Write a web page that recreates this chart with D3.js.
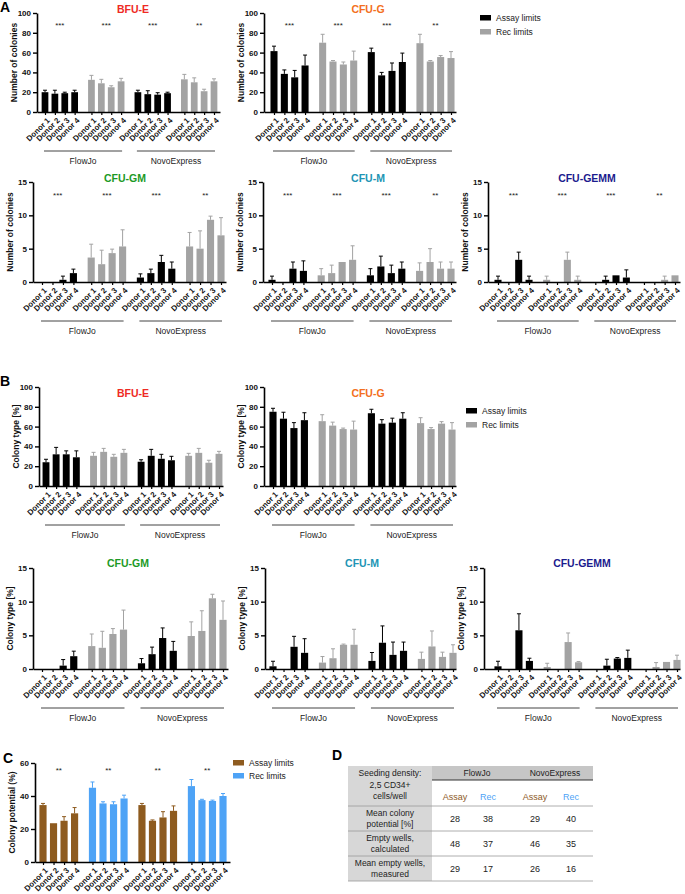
<!DOCTYPE html>
<html>
<head>
<meta charset="utf-8">
<script src="https://cdn.jsdelivr.net/npm/d3@7"></script>
<style>
  body { margin: 0; background: #fff; }
  svg { display: block; font-family: Arial, "Liberation Sans", sans-serif; }
</style>
</head>
<body>
<div id="figure"></div>
<script>
// ---- DATA ----
const donors = ["Donor 1", "Donor 2", "Donor 3", "Donor 4"];
const software = ["FlowJo", "NovoExpress"];
const limits = ["Assay limits", "Rec limits"];
const starsA = ["***", "***", "***", "**"];
const starsC = ["**", "**", "**", "**"];

// order of 16 bars: FlowJo assay x4, FlowJo rec x4, Novo assay x4, Novo rec x4
// Panel A - number of colonies
const aBfuE = [20, 18.5, 19, 20, 32.5, 29, 25, 31, 20, 18, 17.5, 19, 33, 30, 21, 31];
const aBfuEErr = [2, 3.5, 1, 2, 4.5, 4, 1.5, 3, 2, 3.5, 2, 1, 5, 4.5, 2, 2.5];
const aCfuG = [61.5, 38.5, 35, 47, 70, 51, 48, 52, 60.5, 37, 41.5, 50.5, 69.5, 51, 55.5, 54.5];
const aCfuGErr = [5, 4, 7, 10.5, 8.5, 1, 2.5, 9.5, 4, 3, 8, 9, 9, 1, 1.5, 6.5];
const aCfuGM = [0, 0, 0.33, 1.33, 3.67, 2.67, 4.33, 5.33, 0.67, 1.33, 3, 2, 5.33, 5, 9.33, 7];
const aCfuGMErr = [0, 0, 0.55, 0.6, 2, 2.1, 0.6, 2.5, 0.55, 0.6, 1, 1, 2.1, 2.67, 0.55, 2.65];
const aCfuM = [0.33, 0, 2, 1.67, 1, 1.33, 3, 3.33, 1, 2.33, 1.33, 2, 1.67, 3, 2, 2];
const aCfuMErr = [0.55, 0, 1, 1.5, 1, 1.2, 0, 2.1, 1, 1.55, 1.2, 1, 1.2, 2, 1, 1];
const aCfuGEMM = [0.33, 0, 3.33, 0.33, 0.33, 0, 3.33, 0.33, 0, 0.33, 1, 0.67, 0, 0, 0.33, 1];
const aCfuGEMMErr = [0.55, 0, 1.15, 0.55, 0.55, 0, 1.15, 0.55, 0, 0.55, 0, 1.15, 0, 0, 0.55, 0];

// Panel B - colony type [%]
const bBfuE = [24, 32, 32, 29, 30.5, 34.5, 29.5, 33.5, 24.5, 30.5, 27.5, 26, 30.5, 33.5, 23.5, 32.5];
const bBfuEErr = [3, 7, 3.5, 6.5, 3.5, 3.5, 2.5, 3.5, 2, 6.5, 4.5, 4, 2.5, 4.5, 2.5, 2.5];
const bCfuG = [75, 68, 58.5, 66.5, 65.5, 61, 57.5, 57, 73.5, 63, 64, 68, 63.5, 57.5, 63, 57];
const bCfuGErr = [3.5, 6.5, 5.5, 7.5, 6.5, 3.5, 1, 8.5, 4, 4, 4.5, 6, 5.5, 1.5, 2, 7];
const bCfuGM = [0, 0, 0.5, 1.9, 3.4, 3.15, 5.2, 5.85, 0.85, 2.2, 4.6, 2.7, 4.9, 5.65, 10.5, 7.3];
const bCfuGMErr = [0, 0, 0.9, 0.75, 1.8, 2.45, 0.8, 2.9, 0.7, 1.05, 1.5, 1.4, 2.1, 3, 0.6, 2.8];
const bCfuM = [0.4, 0, 3.3, 2.4, 0.95, 1.6, 3.6, 3.6, 1.2, 3.9, 2.1, 2.7, 1.5, 3.35, 1.8, 2.4];
const bCfuMErr = [0.75, 0, 1.55, 2.1, 0.9, 1.4, 0.1, 2.3, 1.25, 2.5, 1.9, 1.3, 1, 2.3, 0.7, 1.2];
const bCfuGEMM = [0.4, 0, 5.75, 1.2, 0.3, 0, 4, 1, 0, 0.5, 1.55, 1.65, 0, 0.3, 1.05, 1.35];
const bCfuGEMMErr = [0.75, 0, 2.45, 0.4, 0.55, 0, 1.35, 0.1, 0, 0.95, 0.15, 1.15, 0, 0.65, 0, 0.7];

// Panel C - colony potential (%)
const cPotential = [34.5, 23.5, 25, 29.5, 45, 35.5, 35, 38.5, 34.5, 25, 27, 31, 46, 37.5, 37, 40];
const cPotentialErr = [1, 0, 2.5, 3.5, 3.5, 1, 1.5, 2, 1, 0.5, 3.5, 3, 4, 0.5, 0.5, 1.5];

// Panel D - table
const seedingLabel = ["Seeding density:", "2,5 CD34+", "cells/well"];
const tableCols = ["Assay", "Rec", "Assay", "Rec"];
const tableRows = [["Mean colony", "potential [%]"], ["Empty wells,", "calculated"], ["Mean empty wells,", "measured"]];
const tableVals = [[28, 38, 29, 40], [48, 37, 46, 35], [29, 17, 26, 16]];

// ---- SETUP ----
const width = 685, height = 894;
const GSTEP = 4.7; // slot distance between group starts
const svg = d3.select("#figure").append("svg")
    .attr("width", width)
    .attr("height", height);

const black = "#000", grey = "#a3a3a3";
const brown = "#8e5b1f", blue = "#4ea3f6";

function barChart(cfg) {
    const g = svg.append("g");
    const P = 3 + 3 * GSTEP;
    const slot = (cfg.b1 - cfg.b0) / P;
    const x = d3.scaleLinear()
        .domain([-(cfg.b0 - cfg.x0) / slot, P + (cfg.x1 - cfg.b1) / slot])
        .range([cfg.x0, cfg.x1]);
    const pos = i => Math.floor(i / 4) * GSTEP + i % 4;
    const y = d3.scaleLinear().domain([0, cfg.max]).range([cfg.yBot, cfg.yTop]);
    const bw = slot * 0.68;
    const colorOf = i => (Math.floor(i / 4) % 2 ? cfg.rec : cfg.assay);

    // bars
    g.append("g").selectAll("rect")
        .data(cfg.vals)
        .enter().append("rect")
        .attr("x", (d, i) => x(pos(i)) - bw / 2)
        .attr("y", d => y(d))
        .attr("width", bw)
        .attr("height", d => cfg.yBot - y(d))
        .attr("fill", (d, i) => colorOf(i));

    // error bars (upper only)
    const err = cfg.vals.map((v, i) => ({ v, e: cfg.errs[i], i })).filter(d => d.e > 0);
    const eg = g.append("g").attr("stroke-width", 1);
    eg.selectAll("line.v").data(err).enter().append("line")
        .attr("x1", d => x(pos(d.i))).attr("x2", d => x(pos(d.i)))
        .attr("y1", d => y(d.v)).attr("y2", d => y(d.v + d.e))
        .attr("stroke", d => colorOf(d.i));
    eg.selectAll("line.c").data(err).enter().append("line")
        .attr("x1", d => x(pos(d.i)) - 2).attr("x2", d => x(pos(d.i)) + 2)
        .attr("y1", d => y(d.v + d.e)).attr("y2", d => y(d.v + d.e))
        .attr("stroke", d => colorOf(d.i));

    // y axis
    const ya = g.append("g")
        .attr("transform", `translate(${cfg.x0},0)`)
        .call(d3.axisLeft(y).tickValues(d3.range(0, cfg.max + 0.001, cfg.step)).tickSize(4).tickSizeOuter(0));
    ya.select(".domain").attr("stroke-width", 1.6);
    ya.selectAll(".tick line").attr("stroke-width", 1.4);
    ya.selectAll(".tick text").attr("x", -6).style("font-size", "8px").style("font-weight", "bold").attr("fill", "#111");

    // x axis
    const xa = g.append("g")
        .attr("transform", `translate(0,${cfg.yBot})`)
        .call(d3.axisBottom(x).tickValues(d3.range(16).map(pos))
            .tickFormat((d, i) => donors[i % 4]).tickSize(3).tickSizeOuter(0));
    xa.select(".domain").attr("stroke-width", 1.6);
    xa.selectAll(".tick line").attr("stroke-width", 1.2);
    xa.selectAll(".tick text")
        .attr("x", 0).attr("y", 0).attr("dy", "0.35em")
        .attr("transform", "translate(3,7) rotate(-45)")
        .style("text-anchor", "end")
        .style("font-size", "7.8px")
        .style("font-weight", "bold")
        .attr("fill", "#111");

    // software brackets
    if (cfg.brackets) {
        software.forEach((s, k) => {
            const xa0 = x(pos(k * 8)) - 1, xa1 = x(pos(k * 8 + 7)) + 1;
            g.append("line")
                .attr("x1", xa0).attr("x2", xa1)
                .attr("y1", cfg.yBot + 39).attr("y2", cfg.yBot + 39)
                .attr("stroke", "#444").attr("stroke-width", 1);
            g.append("text")
                .attr("x", (xa0 + xa1) / 2).attr("y", cfg.yBot + 52)
                .attr("text-anchor", "middle")
                .style("font-size", "8.5px")
                .attr("fill", "#222")
                .text(s);
        });
    }

    // significance stars
    if (cfg.stars) {
        cfg.stars.forEach((s, k) => {
            g.append("text")
                .attr("x", x((pos(k * 4 + 1) + pos(k * 4 + 2)) / 2))
                .attr("y", cfg.starY)
                .attr("text-anchor", "middle")
                .style("font-size", "8px")
                .attr("fill", "#222")
                .text(s);
        });
    }

    // title
    if (cfg.title) {
        g.append("text")
            .attr("x", cfg.tx).attr("y", cfg.ty)
            .attr("text-anchor", "middle")
            .style("font-size", "10.5px")
            .style("font-weight", "bold")
            .attr("fill", cfg.tcolor)
            .text(cfg.title);
    }

    // y label, placed left of this chart's own axis
    g.append("text")
        .attr("transform", "rotate(-90)")
        .attr("x", -(cfg.yTop + cfg.yBot) / 2)
        .attr("y", cfg.x0 - 20)
        .attr("text-anchor", "middle")
        .style("font-size", "8.5px")
        .style("font-weight", "bold")
        .attr("fill", "#111")
        .text(cfg.ylabel);
}

function legend(lx, ly, colors, gap) {
    limits.forEach((l, k) => {
        svg.append("rect")
            .attr("x", lx).attr("y", ly + k * gap - 3)
            .attr("width", 11).attr("height", 5.5)
            .attr("fill", colors[k]);
        svg.append("text")
            .attr("x", lx + 16).attr("y", ly + k * gap + 3)
            .style("font-size", "8.5px")
            .attr("fill", "#222")
            .text(l);
    });
}

function panelLetter(t, lx, ly) {
    svg.append("text").attr("x", lx).attr("y", ly)
        .style("font-size", "14px").style("font-weight", "bold")
        .text(t);
}

// ---- PANEL A ----
panelLetter("A", 0, 12);
const colA = "Number of colonies";
barChart({ vals: aBfuE, errs: aBfuEErr, max: 100, step: 20, x0: 37, x1: 220, b0: 45, b1: 214, yTop: 13, yBot: 112,
    assay: black, rec: grey, brackets: true, stars: starsA, starY: 28, title: "BFU-E", tx: 133, ty: 13, tcolor: "#ee2a24", ylabel: colA });
barChart({ vals: aCfuG, errs: aCfuGErr, max: 100, step: 20, x0: 264, x1: 456, b0: 274, b1: 451, yTop: 13, yBot: 112,
    assay: black, rec: grey, brackets: true, stars: starsA, starY: 28, title: "CFU-G", tx: 368, ty: 13, tcolor: "#f36f21", ylabel: colA });
legend(480, 18, [black, grey], 14);

barChart({ vals: aCfuGM, errs: aCfuGMErr, max: 15, step: 5, x0: 33, x1: 226, b0: 42, b1: 221, yTop: 182, yBot: 282,
    assay: black, rec: grey, brackets: true, stars: starsA, starY: 198, title: "CFU-GM", tx: 125, ty: 182, tcolor: "#1c9a25", ylabel: colA });
barChart({ vals: aCfuM, errs: aCfuMErr, max: 15, step: 5, x0: 263, x1: 456, b0: 272, b1: 451, yTop: 182, yBot: 282,
    assay: black, rec: grey, brackets: true, stars: starsA, starY: 198, title: "CFU-M", tx: 368, ty: 182, tcolor: "#2194b4", ylabel: colA });
barChart({ vals: aCfuGEMM, errs: aCfuGEMMErr, max: 15, step: 5, x0: 488, x1: 680, b0: 498, b1: 675, yTop: 182, yBot: 282,
    assay: black, rec: grey, brackets: true, stars: starsA, starY: 198, title: "CFU-GEMM", tx: 587, ty: 182, tcolor: "#1b1b8e", ylabel: colA });

// ---- PANEL B ----
panelLetter("B", 0, 386);
const colB = "Colony type [%]";
barChart({ vals: bBfuE, errs: bBfuEErr, max: 100, step: 20, x0: 39, x1: 223, b0: 46, b1: 219, yTop: 387, yBot: 486,
    assay: black, rec: grey, brackets: true, title: "BFU-E", tx: 133, ty: 397, tcolor: "#ee2a24", ylabel: colB });
barChart({ vals: bCfuG, errs: bCfuGErr, max: 100, step: 20, x0: 264, x1: 456, b0: 273, b1: 452, yTop: 387, yBot: 486,
    assay: black, rec: grey, brackets: true, title: "CFU-G", tx: 368, ty: 397, tcolor: "#f36f21", ylabel: colB });
legend(466, 411, [black, grey], 14);

barChart({ vals: bCfuGM, errs: bCfuGMErr, max: 15, step: 5, x0: 33, x1: 228, b0: 42, b1: 223, yTop: 568, yBot: 669,
    assay: black, rec: grey, brackets: true, title: "CFU-GM", tx: 128, ty: 567, tcolor: "#1c9a25", ylabel: colB });
barChart({ vals: bCfuM, errs: bCfuMErr, max: 15, step: 5, x0: 265, x1: 456, b0: 273, b1: 453, yTop: 568, yBot: 669,
    assay: black, rec: grey, brackets: true, title: "CFU-M", tx: 362, ty: 567, tcolor: "#2194b4", ylabel: colB });
barChart({ vals: bCfuGEMM, errs: bCfuGEMMErr, max: 15, step: 5, x0: 484, x1: 680, b0: 498, b1: 677, yTop: 568, yBot: 669,
    assay: black, rec: grey, brackets: true, title: "CFU-GEMM", tx: 582, ty: 567, tcolor: "#1b1b8e", ylabel: colB });

// ---- PANEL C ----
panelLetter("C", 3, 763);
barChart({ vals: cPotential, errs: cPotentialErr, max: 60, step: 20, x0: 35, x1: 230, b0: 43, b1: 223, yTop: 763, yBot: 862,
    assay: brown, rec: blue, brackets: false, stars: starsC, starY: 773, ylabel: "Colony potential (%)" });
legend(233, 763, [brown, blue], 13);

// ---- PANEL D ----
panelLetter("D", 332, 760);
const tL = 348, tM = 432, tR = 593;
const rowY = [766, 780, 806, 831, 856, 881];
const colX = [455, 488, 535, 571];
const swX = [477, 555];
const tg = svg.append("g").style("font-size", "8.5px").attr("fill", "#222");

tg.append("rect").attr("x", tL).attr("y", rowY[0]).attr("width", tM - tL).attr("height", rowY[5] - rowY[0]).attr("fill", "#d7d7d7");
tg.append("rect").attr("x", tM).attr("y", rowY[0]).attr("width", tR - tM).attr("height", rowY[1] - rowY[0]).attr("fill", "#c6c6c6");
[2, 3, 4].forEach(r => {
    tg.append("line").attr("x1", tL).attr("x2", tR).attr("y1", rowY[r]).attr("y2", rowY[r])
        .attr("stroke", "#9a9a9a").attr("stroke-width", 0.8);
});
tg.append("line").attr("x1", tM).attr("x2", tR).attr("y1", rowY[1]).attr("y2", rowY[1])
    .attr("stroke", "#333").attr("stroke-width", 1);
tg.append("line").attr("x1", tL).attr("x2", tR).attr("y1", rowY[5]).attr("y2", rowY[5])
    .attr("stroke", "#9a9a9a").attr("stroke-width", 0.8);

seedingLabel.forEach((t, k) => {
    tg.append("text").attr("x", (tL + tM) / 2).attr("y", 776 + k * 11.5)
        .attr("text-anchor", "middle").text(t);
});
software.forEach((s, k) => {
    tg.append("text").attr("x", swX[k]).attr("y", 776).attr("text-anchor", "middle").text(s);
});
tableCols.forEach((c, k) => {
    tg.append("text").attr("x", colX[k]).attr("y", 800).attr("text-anchor", "middle")
        .style("font-size", "9px")
        .attr("fill", k % 2 ? blue : brown).text(c);
});
tableRows.forEach((lines, r) => {
    const top = rowY[r + 2], bot = rowY[r + 3];
    const mid = (top + bot) / 2;
    lines.forEach((t, k) => {
        tg.append("text").attr("x", (tL + tM) / 2).attr("y", mid - 2.5 + k * 11)
            .attr("text-anchor", "middle").text(t);
    });
    tableVals[r].forEach((v, k) => {
        tg.append("text").attr("x", colX[k]).attr("y", mid + 3.5)
            .attr("text-anchor", "middle").style("font-size", "9px").text(v);
    });
});
</script>
</body>
</html>
